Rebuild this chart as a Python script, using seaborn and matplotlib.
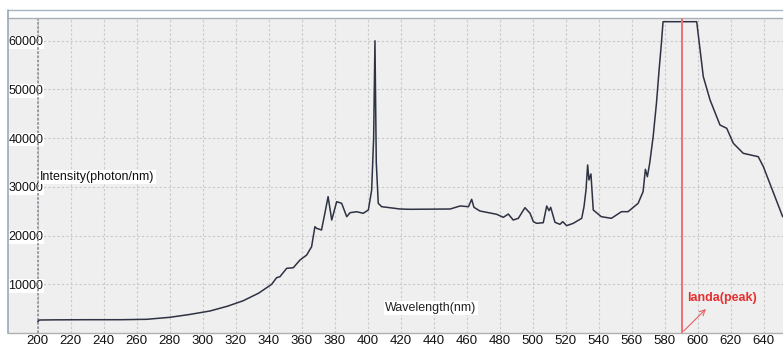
import matplotlib
matplotlib.use("Agg")
import matplotlib.pyplot as plt
import seaborn as sns
import pandas as pd

# ---- data ----
wavelength = [200, 201, 210, 230, 250, 266, 280, 292, 304.4, 315, 324.6, 334, 341.8,
              344.8, 346.8, 350.9, 354.9, 359, 363, 366, 368, 369, 372, 374, 376,
              378.2, 381.2, 384.2, 387.3, 389.3, 393.3, 397.3, 400.4, 402.4, 403.6,
              404.4, 405.2, 406.4, 408.5, 411.5, 419.6, 425.6, 450, 456, 461.1, 463,
              464.4, 468, 472.1, 478.2, 482.2, 485.2, 488.2, 491.3, 495.3, 498.4,
              500.4, 502.4, 506.4, 508.5, 509.9, 510.9, 513.5, 516.5, 518.2, 520.6,
              524.6, 529.7, 531.1, 532.3, 533.3, 534.1, 535.3, 536.7, 541.6, 547.7,
              553.8, 557.8, 563.9, 566.9, 568.3, 569.5, 570.9, 573, 575, 576.6, 578,
              579, 599.4, 603.4, 607.5, 613.5, 617.6, 621.6, 627.6, 636.7, 639.8, 651.5]
intensity = [2320, 2670, 2700, 2730, 2730, 2810, 3220, 3800, 4520, 5500, 6630, 8200, 10000,
             11360, 11560, 13280, 13400, 15000, 16000, 17720, 21830, 21500, 21150, 24500, 28000,
             23200, 26960, 26630, 23880, 24700, 24900, 24580, 25260, 29360, 40000,
             60000, 35000, 26630, 25930, 25810, 25460, 25400, 25460, 26080, 25940, 27450,
             25810, 25050, 24780, 24370, 23750, 24430, 23200, 23550, 25730, 24580,
             22860, 22520, 22650, 26080, 25120, 25810, 22730, 22320, 22860, 22040,
             22520, 23550, 25940, 29360, 34500, 31420, 32650, 25260, 23880, 23550,
             24910, 24910, 26630, 29020, 33610, 32100, 34850, 40310, 47170, 54000, 59490,
             63920, 63920, 52630, 47840, 42710, 42030, 38950, 36900, 36200, 34150, 23880]

x_ticks = [200, 220, 240, 260, 280, 300, 320, 340, 360, 380, 400, 420, 440, 460,
           480, 500, 520, 540, 560, 580, 600, 620, 640]
y_ticks = [10000, 20000, 30000, 40000, 50000, 60000]
y_tick_labels = ["10000", "20000", "30000", "40000", "50000", "60000"]
peak_wavelength = 590.3
x_label = "Wavelength(nm)"
y_label = "Intensity(photon/nm)"
peak_label = "landa(peak)"

df = pd.DataFrame({"wavelength": wavelength, "intensity": intensity})

sns.set_style("white")
plt.rcParams["font.family"] = ["Liberation Sans", "DejaVu Sans"]

fig = plt.figure(figsize=(7.83, 3.47), dpi=100, facecolor="white")
ax = fig.add_axes([8 / 783, 14 / 347, 775 / 783, 315 / 347])
ax.set_facecolor("#efefef")

sns.lineplot(data=df, x="wavelength", y="intensity", ax=ax, color="#2e3242",
             linewidth=1.1, zorder=3)
ax.set_xlabel("")
ax.set_ylabel("")

ax.set_xlim(182, 651.7)
ax.set_ylim(0, 64680)

ax.set_xticks(x_ticks)
ax.set_xticklabels([str(t) for t in x_ticks])
ax.set_yticks(y_ticks)
ax.set_yticklabels(y_tick_labels)

ax.grid(True, color="#c9c9c9", linestyle=(0, (2, 2)), linewidth=0.8)
ax.axvline(x_ticks[0], color="#8a8f9a", linestyle=(0, (1.5, 1)), linewidth=1.2, zorder=2)

ax.tick_params(axis="x", length=0, pad=1.5, labelsize=9.5, colors="#111111")
ax.tick_params(axis="y", length=0, pad=-25.6, labelsize=9, colors="#111111")
for lab in ax.get_yticklabels():
    lab.set_horizontalalignment("right")
    lab.set_bbox(dict(facecolor="white", edgecolor="none", pad=0.5))
for lab in ax.get_xticklabels():
    lab.set_bbox(dict(facecolor="white", edgecolor="none", pad=0.5))

ax.spines["right"].set_visible(False)
ax.spines["left"].set_color("#9aa8c0")
ax.spines["left"].set_linewidth(1.2)
ax.spines["top"].set_color("#a8aeb8")
ax.spines["top"].set_linewidth(1.0)
ax.spines["bottom"].set_color("#b0b0b0")
ax.spines["bottom"].set_linewidth(1.0)

# top screenshot strip
fig.add_artist(plt.Line2D([8 / 783, 1.0], [1 - 10 / 347, 1 - 10 / 347],
                          color="#a8b4c4", linewidth=1.0))
fig.add_artist(plt.Line2D([8 / 783, 8 / 783], [1 - 10 / 347, 1 - 18 / 347],
                          color="#9aa8c0", linewidth=1.2))

ax.axvline(peak_wavelength, color="#f07070", linewidth=1.4, zorder=4)

ax.text(201.4, 32030, y_label, fontsize=9, ha="left", va="center", color="#111111",
        bbox=dict(facecolor="white", edgecolor="none", pad=1), zorder=5)
ax.text(410.5, 5130, x_label, fontsize=9, ha="left", va="center", color="#222222",
        bbox=dict(facecolor="white", edgecolor="none", pad=1), zorder=5)
ax.text(593.5, 7200, peak_label, fontsize=9, fontweight="bold", ha="left", va="center",
        color="#e63030", zorder=5)
ax.annotate("", xy=(606.2, 5340), xytext=(peak_wavelength, 0),
            arrowprops=dict(arrowstyle="->", color="#e86060", lw=0.8), zorder=5)

fig.savefig("out.png", dpi=100, facecolor="white")
